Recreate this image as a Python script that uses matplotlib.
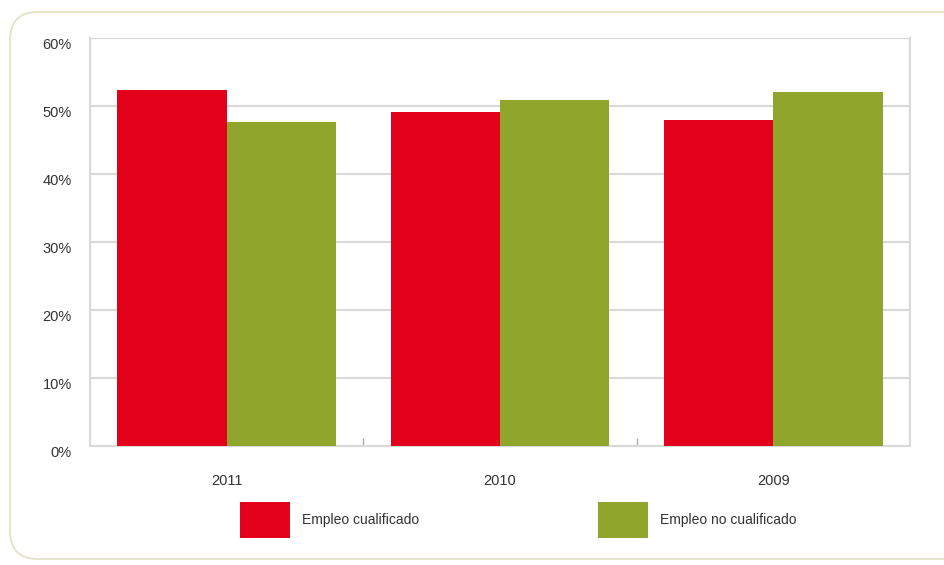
import matplotlib
matplotlib.use("Agg")
import matplotlib.pyplot as plt
from matplotlib.patches import FancyBboxPatch, Patch
from matplotlib.transforms import IdentityTransform
import numpy as np

years = ["2011", "2010", "2009"]
cualificado = [52.3, 49.1, 48.0]
no_cualificado = [47.7, 50.9, 52.0]
series_labels = ["Empleo cualificado", "Empleo no cualificado"]
yticks = [0, 10, 20, 30, 40, 50, 60]

plt.rcParams["font.family"] = ["Liberation Sans", "DejaVu Sans"]

RED = "#e2001a"
GREEN = "#8fa52b"
GRID = "#d9d9d9"
TXT = "#333333"

W, H = 944, 565
fig = plt.figure(figsize=(W / 100, H / 100), dpi=100)
fig.patch.set_facecolor("white")

# rounded frame
frame = FancyBboxPatch((10, 6), 980, 547, boxstyle="round,pad=0,rounding_size=28",
                       transform=IdentityTransform(), facecolor="white",
                       edgecolor="#e3e3c4", linewidth=1.3, zorder=-5)
fig.patches.append(frame)

ax = fig.add_axes([90 / W, (H - 446) / H, 820 / W, 408 / H])
ax.set_facecolor("none")
x = np.arange(len(years))
w = 0.4
ax.bar(x - w / 2, cualificado, w, color=RED, label=series_labels[0], zorder=3)
ax.bar(x + w / 2, no_cualificado, w, color=GREEN, label=series_labels[1], zorder=3)

ax.set_xlim(-0.5, len(years) - 0.5)
ax.set_ylim(0, 60)
ax.set_yticks(yticks)
ax.set_yticklabels([f"{v}%" for v in yticks], fontsize=10.5, color=TXT, va="top")
ax.tick_params(axis="y", length=0, pad=13)
ax.set_xticks(x)
ax.set_xticklabels(years, fontsize=10.5, color=TXT)
ax.tick_params(axis="x", length=0, pad=20)
# category separators as minor ticks
ax.set_xticks([0.5, 1.5], minor=True)
ax.tick_params(axis="x", which="minor", direction="in", length=6, color="#aaaaaa", width=1)

ax.grid(axis="y", color=GRID, linewidth=1.5, zorder=0)
for s in ["left", "right", "bottom", "top"]:
    ax.spines[s].set_color(GRID)
    ax.spines[s].set_linewidth(1.5)
ax.spines["top"].set_visible(False)

handles = [Patch(facecolor=RED), Patch(facecolor=GREEN)]
fig.legend(handles, series_labels, loc="center left",
           bbox_to_anchor=(227 / W, 1 - 520 / H), ncol=2, frameon=False,
           fontsize=10, handlelength=3.6, handleheight=3.6, handletextpad=0.9,
           columnspacing=12.85, labelcolor=TXT)

fig.savefig("out.png", dpi=100, facecolor="white")
